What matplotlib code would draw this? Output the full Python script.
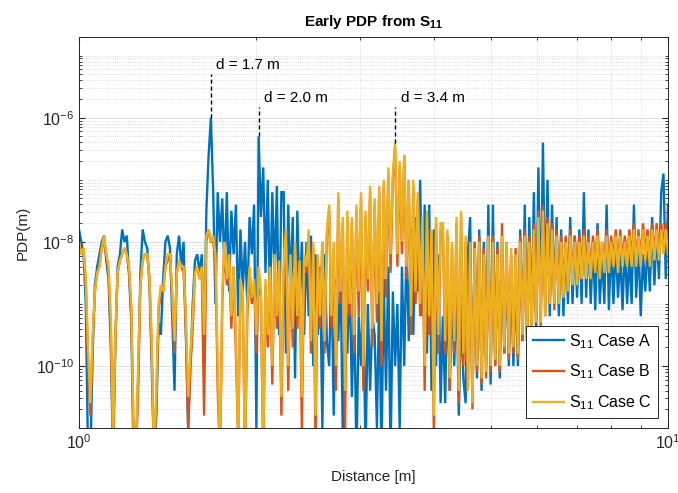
import numpy as np
import matplotlib
matplotlib.use("Agg")
import matplotlib.pyplot as plt
from matplotlib.ticker import LogLocator, FixedLocator, NullFormatter

plt.rcParams['font.family'] = ['Liberation Sans', 'DejaVu Sans']
plt.rcParams['mathtext.fontset'] = 'custom'
plt.rcParams['mathtext.rm'] = 'Liberation Sans'
plt.rcParams['mathtext.bf'] = 'Liberation Sans:bold'

# PDP level as log10, in tenths of a decade (-80 -> 1e-8), one value per distance sample
case_a = [
    -78, -80, -82, -90, -115, -115, -98, -87, -84, -82,
    -80, -79, -83, -86, -97, -115, -96, -84, -82, -78,
    -80, -79, -85, -93, -115, -115, -102, -85, -78, -80,
    -81, -87, -100, -115, -108, -93, -95, -86, -80, -79,
    -81, -92, -104, -82, -79, -84, -80, -95, -110, -100,
    -90, -83, -82, -85, -82, -98, -75, -66, -60, -72,
    -90, -72, -80, -73, -85, -72, -88, -75, -82, -74,
    -92, -78, -88, -80, -90, -76, -82, -74, -110, -63,
    -76, -68, -85, -70, -90, -72, -86, -71, -95, -72,
    -72, -98, -74, -88, -76, -102, -75, -90, -80, -95,
    -80, -92, -79, -100, -82, -95, -84, -110, -82, -96,
    -100, -84, -108, -86, -96, -84, -112, -88, -98, -85,
    -105, -90, -115, -92, -100, -88, -115, -90, -104, -92,
    -95, -110, -88, -115, -86, -104, -84, -115, -88, -100,
    -90, -110, -84, -100, -80, -96, -78, -95, -76, -88,
    -70, -92, -74, -98, -74, -104, -78, -100, -82, -106,
    -92, -106, -86, -104, -88, -100, -86, -108, -90, -102,
    -106, -82, -76, -106, -80, -102, -78, -104, -80, -100,
    -74, -103, -74, -100, -80, -102, -82, -98, -84, -100,
    -84, -100, -86, -100, -78, -96, -74, -96, -76, -94,
    -72, -94, -68, -92, -64, -90, -70, -92, -74, -90,
    -76, -92, -78, -92, -80, -90, -76, -90, -79, -89,
    -78, -90, -72, -89, -78, -90, -80, -91, -77, -90,
    -82, -90, -74, -91, -80, -90, -80, -89, -82, -91,
    -80, -90, -82, -90, -74, -89, -80, -92, -82, -88,
    -80, -88, -76, -87, -78, -86, -72, -69, -86, -74,
]
case_b = [
    -80, -82, -81, -87, -100, -108, -96, -88, -85, -84,
    -81, -80, -82, -85, -95, -113, -96, -85, -83, -82,
    -81, -82, -85, -91, -112, -115, -104, -87, -83, -82,
    -82, -86, -98, -115, -106, -91, -88, -88, -84, -83,
    -82, -89, -98, -85, -83, -84, -85, -94, -110, -100,
    -94, -85, -84, -86, -85, -108, -80, -78, -80, -80,
    -83, -104, -115, -90, -80, -87, -83, -94, -84, -98,
    -112, -87, -89, -115, -92, -85, -90, -87, -98, -85,
    -89, -115, -87, -97, -85, -103, -83, -94, -84, -108,
    -85, -79, -104, -83, -97, -81, -94, -84, -110, -83,
    -85, -79, -98, -81, -112, -83, -94, -80, -98, -79,
    -75, -94, -81, -104, -73, -90, -77, -110, -76, -92,
    -77, -98, -75, -92, -73, -104, -76, -88, -72, -97,
    -74, -93, -72, -100, -71, -89, -69, -85, -70, -65,
    -84, -68, -82, -66, -86, -70, -95, -71, -90, -73,
    -92, -77, -104, -76, -95, -79, -110, -77, -98, -78,
    -78, -98, -79, -104, -81, -98, -77, -106, -76, -100,
    -80, -104, -81, -107, -80, -101, -79, -103, -81, -102,
    -80, -101, -79, -100, -81, -101, -77, -98, -80, -99,
    -82, -98, -81, -99, -79, -96, -78, -96, -79, -95,
    -77, -93, -75, -94, -74, -92, -76, -90, -77, -91,
    -78, -89, -79, -88, -79, -87, -78, -86, -79, -86,
    -79, -86, -78, -85, -79, -85, -79, -84, -78, -85,
    -80, -84, -78, -84, -79, -83, -78, -84, -78, -83,
    -79, -83, -78, -83, -77, -83, -78, -83, -77, -82,
    -78, -83, -77, -82, -77, -82, -77, -81, -77, -81,
]
case_c = [
    -80, -82, -81, -86, -97, -106, -95, -88, -85, -84,
    -81, -79, -82, -84, -92, -112, -95, -85, -83, -82,
    -81, -82, -84, -90, -110, -115, -100, -87, -83, -82,
    -82, -86, -96, -115, -104, -90, -87, -88, -84, -82,
    -82, -88, -96, -85, -83, -84, -84, -92, -105, -98,
    -92, -85, -84, -86, -84, -95, -79, -78, -80, -79,
    -82, -100, -115, -88, -80, -86, -82, -92, -84, -95,
    -112, -86, -88, -115, -90, -84, -89, -86, -95, -84,
    -88, -115, -86, -95, -84, -100, -82, -92, -83, -105,
    -84, -78, -100, -82, -94, -80, -92, -83, -105, -82,
    -84, -78, -96, -80, -108, -82, -92, -80, -96, -78,
    -74, -92, -80, -100, -72, -88, -76, -104, -75, -90,
    -76, -95, -74, -88, -72, -100, -75, -86, -71, -94,
    -73, -90, -71, -96, -70, -86, -68, -82, -69, -64,
    -82, -67, -80, -66, -84, -70, -92, -70, -88, -72,
    -90, -76, -100, -75, -92, -78, -108, -76, -95, -77,
    -77, -96, -78, -102, -80, -96, -76, -104, -75, -98,
    -79, -104, -80, -106, -81, -100, -80, -102, -82, -101,
    -79, -100, -80, -99, -82, -100, -79, -97, -80, -98,
    -81, -97, -82, -98, -80, -95, -79, -96, -80, -94,
    -78, -93, -76, -93, -75, -92, -77, -90, -78, -90,
    -79, -90, -80, -89, -80, -88, -79, -87, -80, -87,
    -80, -86, -79, -86, -80, -86, -80, -85, -79, -86,
    -80, -85, -79, -85, -80, -84, -79, -85, -79, -84,
    -80, -84, -79, -84, -78, -84, -79, -84, -78, -83,
    -79, -84, -78, -83, -78, -83, -78, -82, -78, -82,
]

labels = [r'S$_{11}$ Case A', r'S$_{11}$ Case B', r'S$_{11}$ Case C']
colors = ['#0072BD', '#D95319', '#EDB120']

# marked reflections: (series, sample index, text, top of the dashed marker)
peaks = [(0, 58, 'd = 1.7 m', 5.1e-6),
         (0, 79, 'd = 2.0 m', 1.5e-6),
         (2, 139, 'd = 3.4 m', 1.5e-6)]

dist = np.logspace(0, 1, len(case_a))
series = [10.0 ** (np.array(s) / 10.0) for s in (case_a, case_b, case_c)]

fig = plt.figure(figsize=(6.78, 4.93), dpi=100)
ax = fig.add_axes([0.1165, 0.1318, 0.8688, 0.7932])

for y, c, lab in zip(series, colors, labels):
    ax.plot(dist, y, color=c, lw=1.7, label=lab, solid_joinstyle='miter')

for k, i, txt, ytop in peaks:
    ax.plot([dist[i], dist[i]], [series[k][i], ytop], color='k', ls='--', lw=1.0,
            dashes=(3, 2))
    ax.annotate(txt, xy=(dist[i], ytop), xytext=(4, 1), textcoords='offset points',
                ha='left', va='bottom', fontsize=11)

ax.set_xscale('log')
ax.set_yscale('log')
ax.set_xlim(1, 10)
ax.set_ylim(1e-11, 2e-5)

ax.xaxis.set_major_locator(FixedLocator([1, 10]))
ax.xaxis.set_minor_locator(LogLocator(base=10, subs=np.arange(2, 10), numticks=50))
ax.xaxis.set_minor_formatter(NullFormatter())
ax.yaxis.set_major_locator(FixedLocator([1e-10, 1e-8, 1e-6]))
ax.yaxis.set_minor_locator(LogLocator(base=10, subs=np.arange(1, 10), numticks=50))
ax.yaxis.set_minor_formatter(NullFormatter())

ax.set_axisbelow(True)
ax.grid(which='major', color='#dedede', lw=0.7, ls='-')
ax.grid(which='minor', color='#d2d2d2', lw=0.6, ls=':')
ax.tick_params(which='both', direction='in', top=True, right=True, colors='#262626',
               labelsize=11.5)
ax.tick_params(which='major', length=4)
ax.tick_params(which='minor', length=2)
for sp in ax.spines.values():
    sp.set_color('#262626')
    sp.set_linewidth(0.7)

ax.set_xlabel('Distance [m]', fontsize=11, color='#262626', labelpad=13)
ax.set_ylabel('PDP(m)', fontsize=11, color='#262626', labelpad=4)
ax.set_title(r'Early PDP from S$_{\mathbf{11}}$', fontsize=11, fontweight='bold', pad=8)

leg = ax.legend(loc='lower right', fancybox=False, edgecolor='#262626', framealpha=1,
                fontsize=11.5, handlelength=2.0, handletextpad=0.3,
                borderaxespad=0.6, labelspacing=0.75)
leg.get_frame().set_linewidth(0.7)
for h in leg.get_lines():
    h.set_linewidth(1.7)

fig.savefig('out.png', dpi=100)
